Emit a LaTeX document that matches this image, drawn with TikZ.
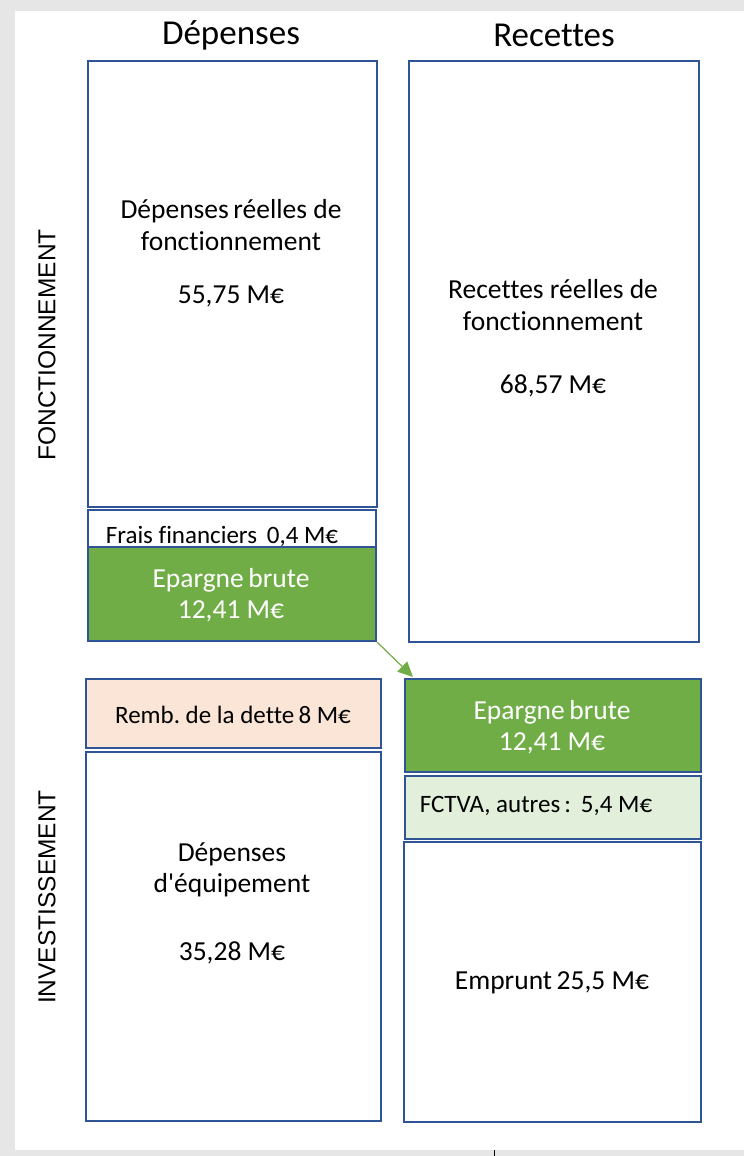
\documentclass[tikz,border=0pt]{standalone}
\usepackage{fontspec}
\setmainfont{Carlito}[Ligatures={NoCommon,TeXOff}]
\newfontfamily\arialfont{Liberation Sans}
\usepackage{tikz}
\usetikzlibrary{positioning,calc,arrows.meta}

\definecolor{boxblue}{HTML}{2F5597}
\definecolor{epgreen}{HTML}{70AD47}
\definecolor{rembpeach}{HTML}{FBE5D6}
\definecolor{fctvagreen}{HTML}{E2EFDA}
\definecolor{pagegray}{HTML}{E7E6E6}

\tikzset{
  bloc/.style={draw=boxblue, line width=2.2pt, fill=white, rectangle,
    anchor=north west, inner sep=0pt},
  txt/.style={align=center, font=\fontsize{27.5}{31.5}\selectfont, inner sep=0pt},
  smalltxt/.style={txt, font=\fontsize{25}{30}\selectfont},
  head/.style={font=\fontsize{35}{40}\selectfont, inner sep=0pt},
  side/.style={rotate=90, font=\arialfont\fontsize{24.5}{28}\selectfont, inner sep=0pt}
}

\frenchspacing
\begin{document}
\begin{tikzpicture}[x=1pt, y=-1pt, >=Latex, line join=miter]

% --- page and background ---
\fill[pagegray] (0,0) rectangle (744,1156);
\fill[white] (15,11) rectangle (744,1150);
\useasboundingbox (0,0) rectangle (744,1156);
\draw[line width=1pt] (494,1150) -- (494,1156);

% --- column heads ---
\node[head] (hdep) at (231,35) {Dépenses};
\node[head] (hrec) at (554,35) {Recettes};

% --- side labels ---
\node[side] (fonct) at (47,345) {FONCTIONNEMENT};
\node[side] (invest) at (47,897) {INVESTISSEMENT};

% ------------------ FONCTIONNEMENT ------------------
\node[bloc, minimum width=289, minimum height=446] (drf) at (87,60) {};
\node[bloc, minimum width=288, minimum height=37] (frais) at (87,509) {};
\node[bloc, fill=epgreen, minimum width=288, minimum height=94] (epgL) at (87,546) {};
\node[bloc, minimum width=290, minimum height=581] (rrf) at (408,60) {};

\node[txt] (drfT) at (231,225) {Dépenses\,réelles de\\fonctionnement};
\node[txt] (drfV) at (231,296) {55,75 M€};
\node[smalltxt] (fraisT) at (222,536) {Frais financiers\ \,0,4 M€};
\node[txt, text=white] (epgLT) at (231,595) {Epargne\,brute\\12,41 M€};
\node[txt] (rrfT) at (553,305) {Recettes réelles de\\fonctionnement};
\node[txt] (rrfV) at (553,386) {68,57 M€};

% ------------------ INVESTISSEMENT ------------------
\node[bloc, fill=rembpeach, minimum width=295, minimum height=69] (remb) at (85,678) {};
\node[bloc, minimum width=295, minimum height=369] (equip) at (85,751) {};
\node[bloc, fill=epgreen, minimum width=296, minimum height=93] (epgR) at (404,678) {};
\node[bloc, fill=fctvagreen, minimum width=296, minimum height=63] (fctva) at (404,775) {};
\node[bloc, minimum width=297, minimum height=280] (empr) at (403,841) {};

\node[smalltxt] (rembT) at (233,715) {Remb. de la dette\,8 M€};
\node[txt] (equipT) at (232,870) {Dépenses\\d'équipement};
\node[txt] (equipV) at (232,953) {35,28 M€};
\node[txt, text=white] (epgRT) at (552,727) {Epargne\,brute\\12,41 M€};
\node[smalltxt] (fctvaT) at (536,806) {FCTVA, autres\,: \,5,4 M€};
\node[txt] (emprT) at (552,983) {Emprunt\,25,5 M€};

% transfer of the gross savings
\draw[->, epgreen, line width=1.2pt, >={Triangle[length=15pt, width=14pt]}]
  (epgL.south east) -- ($(epgR.north west)+(9,-1)$);

\end{tikzpicture}
\end{document}
